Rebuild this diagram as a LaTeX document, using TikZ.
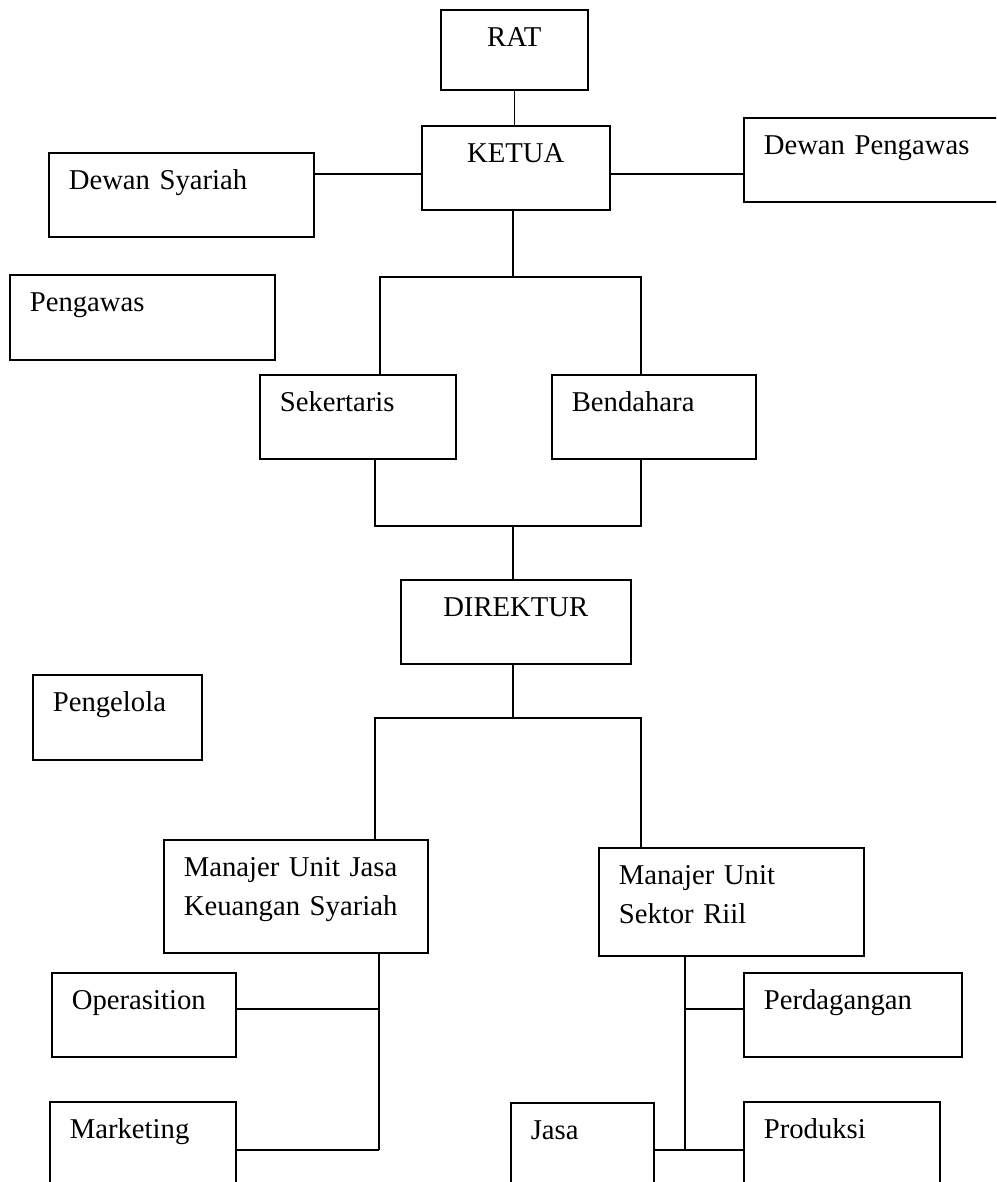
\documentclass[tikz,border=0pt]{standalone}
\usepackage{fontspec}
\setmainfont{Liberation Serif}

\begin{document}
\begin{tikzpicture}[x=0.5pt, y=-0.5pt,
  unit/.style={draw, line width=0.8pt, anchor=north west, align=left,
               inner xsep=10pt, inner ysep=0pt, text height=18.5pt,
               font=\fontsize{14.35}{19.5}\selectfont},
  head/.style={unit, inner xsep=0pt, align=center},
  link/.style={line width=0.65pt}]
\clip[use as bounding box] (0,0) rectangle (996,1182);

\node[head, text width=73.5pt, text depth=21.5pt] (rat) at (440,9) {RAT};
\node[head, text width=94pt, text depth=23.5pt] (ketua) at (421,125) {KETUA};
\node[unit, text width=112.5pt, text depth=23.5pt] (dsy) at (48,152) {Dewan Syariah};
\node[unit, text width=120pt, text depth=23.5pt] (dpw) at (743,117) {Dewan Pengawas};
\node[unit, text width=112.5pt, text depth=24pt] (pgw) at (9,274) {Pengawas};
\node[unit, text width=78pt, text depth=23.5pt] (sek) at (259,374) {Sekertaris};
\node[unit, text width=82pt, text depth=23.5pt] (ben) at (551,374) {Bendahara};
\node[head, text width=115pt, text depth=23.5pt] (dir) at (400,579) {DIREKTUR};
\node[unit, text width=64.5pt, text depth=24pt] (pgl) at (32,674) {Pengelola};
\node[unit, text width=112pt, text depth=38pt] (mjk) at (163,839) {Manajer Unit Jasa\\Keuangan Syariah};
\node[unit, text width=112.5pt, text depth=35.5pt] (msr) at (598,847) {Manajer Unit\\Sektor Riil};
\node[unit, text width=72pt, text depth=23.5pt] (ops) at (51,972) {Operasition};
\node[unit, text width=73pt, text depth=36.5pt] (mkt) at (49,1101) {Marketing};
\node[unit, text width=89pt, text depth=23.5pt] (pdg) at (743,972) {Perdagangan};
\node[unit, text width=51.5pt, text depth=36.5pt] (jasa) at (510,1102) {Jasa};
\node[unit, text width=78pt, text depth=36.5pt] (prd) at (743,1101) {Produksi};

\coordinate (side) at (0,174);
\coordinate (kbar) at (513,277);
\coordinate (ka) at (380,277);
\coordinate (kb) at (641,277);
\coordinate (sbar) at (513,526);
\coordinate (sa) at (375,526);
\coordinate (sb) at (641,526);
\coordinate (dbar) at (513,718);
\coordinate (da) at (375,718);
\coordinate (db) at (641,718);
\coordinate (la) at (379,1009);
\coordinate (lb) at (379,1150);
\coordinate (ra) at (685,1009);
\coordinate (rb) at (685,1150);

\draw[link] (rat.south) -- (rat.south |- ketua.north);
\draw[link] (dsy.east |- side) -- (ketua.west |- side);
\draw[link] (ketua.east |- side) -- (dpw.west |- side);
\draw[link] (kbar |- ketua.south) -- (kbar);
\draw[link] (ka |- sek.north) -- (ka) -- (kb) -- (kb |- ben.north);
\draw[link] (sa |- sek.south) -- (sa) -- (sb) -- (sb |- ben.south);
\draw[link] (sbar) -- (sbar |- dir.north);
\draw[link] (dbar |- dir.south) -- (dbar);
\draw[link] (da |- mjk.north) -- (da) -- (db) -- (db |- msr.north);
\draw[link] (la |- mjk.south) -- (lb);
\draw[link] (ops.east |- la) -- (la);
\draw[link] (mkt.east |- lb) -- (lb);
\draw[link] (ra |- msr.south) -- (rb);
\draw[link] (ra) -- (pdg.west |- ra);
\draw[link] (jasa.east |- rb) -- (prd.west |- rb);
\end{tikzpicture}
\end{document}
